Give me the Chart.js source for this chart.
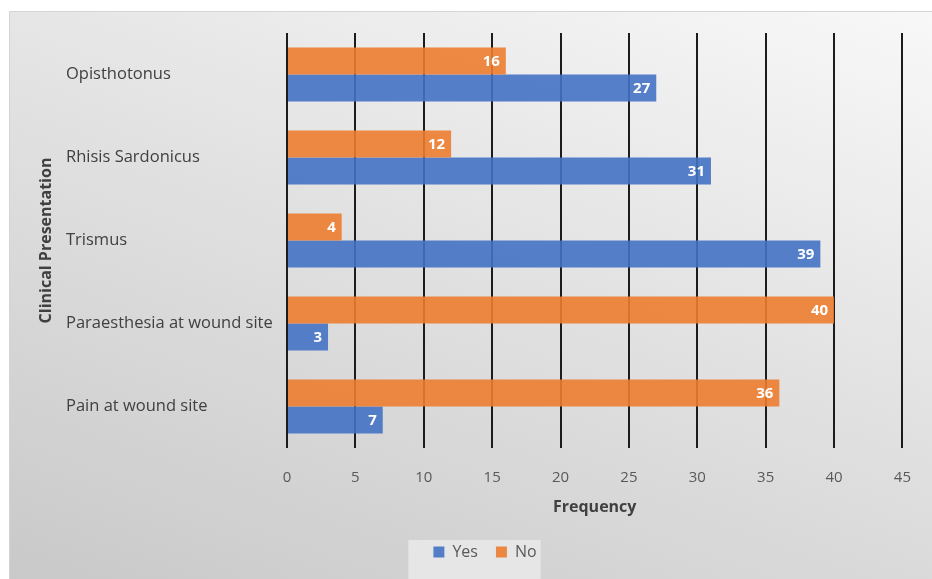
<!DOCTYPE html>
<html>
<head>
<meta charset="utf-8">
<script src="https://cdn.jsdelivr.net/npm/chart.js@4/dist/chart.umd.min.js"></script>
<style>
  body { margin: 0; background: #fff; width: 932px; height: 579px; overflow: hidden; }
  .panel {
    position: absolute; left: 9px; top: 11px; width: 923px; height: 568px;
    background: linear-gradient(200deg, #f8f8f8 0%, #e2e2e2 45%, #c9c9c9 100%);
    border-top: 1px solid #d4d4d4; border-left: 1px solid #d4d4d4;
    box-sizing: border-box;
  }
  canvas { display: block; }
</style>
</head>
<body>
<div class="panel"><canvas id="chart" width="922" height="567"></canvas></div>
<script>
const categories = ['Opisthotonus', 'Rhisis Sardonicus', 'Trismus', 'Paraesthesia at wound site', 'Pain at wound site'];
const yesValues = [27, 31, 39, 3, 7];
const noValues = [16, 12, 4, 40, 36];
const xTicks = [0, 5, 10, 15, 20, 25, 30, 35, 40, 45];

const fontFamily = '"Open Sans", Lato, sans-serif';

// white value labels at the end of each bar
const barLabels = {
  id: 'barLabels',
  afterDatasetsDraw(chart) {
    const ctx = chart.ctx;
    ctx.save();
    ctx.font = `bold 15px ${fontFamily}`;
    ctx.fillStyle = '#ffffff';
    ctx.textAlign = 'right';
    ctx.textBaseline = 'middle';
    chart.data.datasets.forEach((ds, i) => {
      chart.getDatasetMeta(i).data.forEach((bar, j) => {
        ctx.fillText(ds.data[j], bar.x - 6, bar.y + 1);
      });
    });
    ctx.restore();
  }
};

// rotated y title and the light box behind the legend
const extras = {
  id: 'extras',
  beforeDraw(chart) {
    const boxes = chart.legend.legendHitBoxes;
    if (!boxes || !boxes.length) return;
    const ctx = chart.ctx;
    const left = Math.min(...boxes.map(b => b.left)) - 25;
    const right = Math.max(...boxes.map(b => b.left + b.width)) + 4;
    const top = boxes[0].top - 4;
    ctx.save();
    ctx.fillStyle = 'rgba(236,236,236,0.75)';
    ctx.fillRect(left, top, right - left, chart.height - top);
    ctx.restore();
  },
  afterDraw(chart) {
    const ctx = chart.ctx;
    const area = chart.chartArea;
    ctx.save();
    ctx.translate(36, (area.top + area.bottom) / 2);
    ctx.rotate(-Math.PI / 2);
    ctx.font = `bold 16px ${fontFamily}`;
    ctx.fillStyle = '#404040';
    ctx.textAlign = 'center';
    ctx.textBaseline = 'middle';
    ctx.fillText('Clinical Presentation', 0, 0);
    ctx.restore();
  }
};

new Chart(document.getElementById('chart'), {
  type: 'bar',
  data: {
    labels: categories,
    datasets: [
      { label: 'No', data: noValues, backgroundColor: 'rgba(237,125,49,0.9)' },
      { label: 'Yes', data: yesValues, backgroundColor: 'rgba(68,114,196,0.9)' }
    ]
  },
  options: {
    indexAxis: 'y',
    responsive: false,
    animation: false,
    datasets: { bar: { barPercentage: 1, categoryPercentage: 0.65 } },
    layout: { padding: { left: 56, right: 28, top: 21, bottom: 9 } },
    scales: {
      x: {
        min: 0,
        max: 45,
        afterBuildTicks: (scale) => { scale.ticks = xTicks.map(v => ({ value: v })); },
        afterFit: (scale) => { scale.height = 78; },
        grid: { color: '#1c1c1c', lineWidth: 2, drawTicks: false },
        border: { display: false },
        ticks: { color: '#595959', padding: 21, font: { family: fontFamily, size: 15 } },
        title: {
          display: true, text: 'Frequency', color: '#404040',
          font: { family: fontFamily, size: 16, weight: 'bold' },
          padding: { top: 8, bottom: 9 }
        }
      },
      y: {
        afterFit: (scale) => { scale.width = 221; },
        grid: { display: false },
        border: { display: false },
        ticks: { color: '#404040', crossAlign: 'far', padding: 10, font: { family: fontFamily, size: 16.5 } }
      }
    },
    plugins: {
      legend: {
        position: 'bottom',
        reverse: true,
        labels: {
          color: '#595959', boxWidth: 11, boxHeight: 11, padding: 18,
          font: { family: fontFamily, size: 16 }
        }
      },
      tooltip: { enabled: false }
    }
  },
  plugins: [barLabels, extras]
});
</script>
</body>
</html>
